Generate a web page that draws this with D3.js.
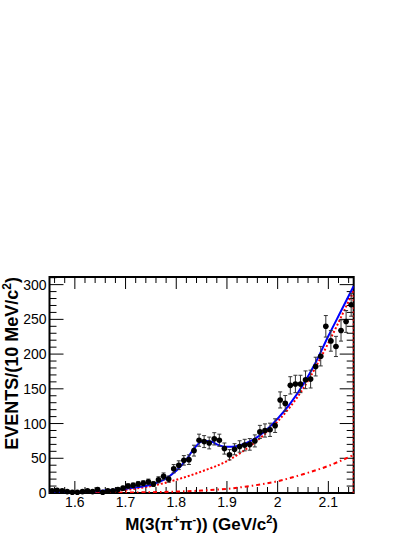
<!DOCTYPE html>
<html><head><meta charset="utf-8">
<script src="https://cdn.jsdelivr.net/npm/d3@7"></script>
<style>html,body{margin:0;padding:0;background:#fff;}svg{display:block;}</style>
</head><body>
<svg id="c" width="415" height="537"></svg>
<script>
// ---- data ----
const binLow = 1.55, binWidth = 0.01;
const counts = [3,4,3,2,1,1,2,3,2,5,1,3,3,5,7,10,11,13,14,16,13,19,24,20,35,40,47,48,61,76,
  74,72,78,76,64,55,63,67,69,70,75,88,90,91,97,134,129,155,157,157,163,164,182,197,240,219,211,234,247,271];
const curveMass = [1.55,1.60,1.65,1.70,1.725,1.75,1.775,1.80,1.82,1.835,1.85,1.86,1.87,1.88,1.89,1.90,1.91,1.925,1.95,1.975,2.00,2.025,2.05,2.075,2.10,2.125,2.15];
const totalFit  = [0.5,1.5,3,6,8.5,12,19,32,48,64,74,75,74,70,67.5,66.5,66.5,68.5,76,89,107,129,156,188,226,262,298];
const bkgMass = [1.55,1.60,1.65,1.70,1.75,1.80,1.85,1.90,1.95,2.00,2.05,2.10,2.15];
const bkgTotal = [0.3,0.8,1.8,4.5,10,19,31,46,70,103,150,216,292];
const bkgOther = [0,0.1,0.2,0.6,1.2,2,3.5,6,10.5,17,27,39,55];
const xTickLabels = ["1.6","1.7","1.8","1.9","2","2.1"];
const xTickValues = [1.6,1.7,1.8,1.9,2.0,2.1];
const yTickValues = [0,50,100,150,200,250,300];

// ---- layout ----
const L = 49.5, R = 353.7, T = 277, B = 493;
const svg = d3.select("#c");
const x = d3.scaleLinear().domain([1.55, 2.15]).range([L, R]);
const y = d3.scaleLinear().domain([0, 311]).range([B, T]);
const font = "'Liberation Sans', Arial, Helvetica, sans-serif";

svg.append("clipPath").attr("id","clp").append("rect")
  .attr("x", L).attr("y", T).attr("width", R-L).attr("height", B-T);

// ticks
const xMinor = d3.range(78, 108).map(i => +(i*0.02).toFixed(2)).filter(v => v > 1.55 && v < 2.15);
const yMinor = d3.range(1, 32).map(i => i*10);
const g = svg.append("g").attr("stroke","#000").attr("stroke-width",1);
xMinor.forEach(v => {
  const major = xTickValues.some(m => Math.abs(m-v) < 1e-6);
  const len = major ? 12 : 6;
  const px = x(v);
  g.append("line").attr("x1",px).attr("x2",px).attr("y1",B).attr("y2",B-len);
  g.append("line").attr("x1",px).attr("x2",px).attr("y1",T).attr("y2",T+len);
});
yMinor.forEach(v => {
  if (y(v) < T) return;
  const major = v % 50 === 0;
  const len = major ? 14 : 7;
  const py = y(v);
  g.append("line").attr("x1",L).attr("x2",L+len).attr("y1",py).attr("y2",py);
  g.append("line").attr("x1",R).attr("x2",R-len).attr("y1",py).attr("y2",py);
});

// frame
svg.append("rect").attr("x",L).attr("y",T).attr("width",R-L).attr("height",B-T)
  .attr("fill","none").attr("stroke","#000").attr("stroke-width",2);

// tick labels
svg.append("g").selectAll("text").data(yTickValues).join("text")
  .attr("x", L-3).attr("y", d => y(d)).attr("dy","0.36em")
  .attr("text-anchor","end").attr("font-family",font).attr("font-size",14).text(d => d);
svg.append("g").selectAll("text").data(xTickValues).join("text")
  .attr("x", d => x(d)).attr("y", 507).attr("text-anchor","middle")
  .attr("font-family",font).attr("font-size",14).text((d,i) => xTickLabels[i]);

// axis titles
const xt = svg.append("text").attr("x",(L+R)/2).attr("y",530).attr("text-anchor","middle")
  .attr("font-family",font).attr("font-size",17).attr("font-weight","bold");
xt.append("tspan").text("M(3(\u03C0");
xt.append("tspan").attr("font-size",11).attr("dy",-7).text("+");
xt.append("tspan").attr("dy",7).text("\u03C0");
xt.append("tspan").attr("font-size",11).attr("dy",-7).text("-");
xt.append("tspan").attr("dy",7).text(")) (GeV/c");
xt.append("tspan").attr("font-size",11).attr("dy",-7).text("2");
xt.append("tspan").attr("dy",7).text(")");

const yt = svg.append("text").attr("transform","translate(18,"+T+") rotate(-90)")
  .attr("text-anchor","end").attr("font-family",font).attr("font-size",18).attr("font-weight","bold");
yt.append("tspan").text("EVENTS/(10 MeV/c");
yt.append("tspan").attr("font-size",12).attr("dy",-7).text("2");
yt.append("tspan").attr("dy",7).text(")");

// curves
const plot = svg.append("g").attr("clip-path","url(#clp)");
const lineFit = d3.line().x((d,i) => x(curveMass[i])).y(d => y(d)).curve(d3.curveMonotoneX);
const lineBkg = d3.line().x((d,i) => x(bkgMass[i])).y(d => y(d)).curve(d3.curveMonotoneX);
plot.append("path").attr("d", lineBkg(bkgOther)).attr("fill","none")
  .attr("stroke","#ff0000").attr("stroke-width",2).attr("stroke-dasharray","4,3,1.5,3");
plot.append("path").attr("d", lineBkg(bkgTotal) + "L" + x(2.15) + "," + y(0)).attr("fill","none")
  .attr("stroke","#ff0000").attr("stroke-width",2).attr("stroke-dasharray","2,2");
plot.append("path").attr("d", lineFit(totalFit)).attr("fill","none")
  .attr("stroke","#0000ff").attr("stroke-width",2);

// data points
const pts = counts.map((c,i) => ({m: binLow + (i+0.5)*binWidth, c: c, e: Math.sqrt(c)}));
const pg = svg.append("g");
pts.forEach(p => {
  const px = x(p.m), py = y(p.c);
  const y1 = y(p.c + p.e), y2 = y(Math.max(0, p.c - p.e));
  pg.append("line").attr("x1",px).attr("x2",px).attr("y1",y1).attr("y2",y2).attr("stroke","#333").attr("stroke-width",1);
  pg.append("line").attr("x1",px-2).attr("x2",px+2).attr("y1",y1).attr("y2",y1).attr("stroke","#333").attr("stroke-width",1);
  pg.append("line").attr("x1",px-2).attr("x2",px+2).attr("y1",y2).attr("y2",y2).attr("stroke","#333").attr("stroke-width",1);
  pg.append("line").attr("x1",x(p.m-binWidth/2)).attr("x2",x(p.m+binWidth/2)).attr("y1",py).attr("y2",py).attr("stroke","#000").attr("stroke-width",1);
  pg.append("circle").attr("cx",px).attr("cy",py).attr("r",2.8).attr("fill","#000");
});
</script>
</body></html>
